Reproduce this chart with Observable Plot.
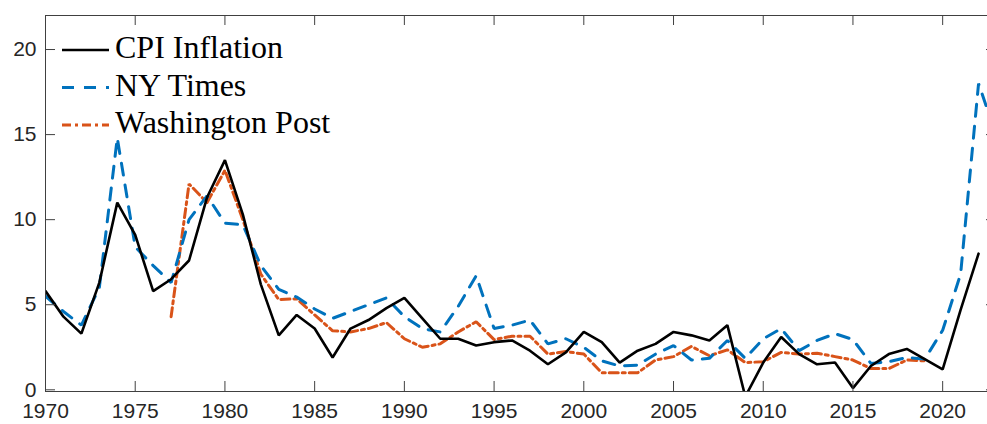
<!DOCTYPE html>
<html><head><meta charset="utf-8">
<script src="https://cdn.jsdelivr.net/npm/d3@7"></script>
<script src="https://cdn.jsdelivr.net/npm/@observablehq/plot@0.6"></script>
<style>
html,body{margin:0;padding:0;overflow:hidden;background:#fff;width:987px;height:424px}
#wrap{position:relative;width:987px;height:424px;overflow:hidden}
#wrap svg{max-width:none !important;display:block}
#legend{position:absolute;left:0;top:0}
</style></head><body><div id="wrap"></div>
<script>
const seriesNames = ["CPI Inflation", "NY Times", "Washington Post"];
const seriesColors = ["#000000", "#0072BD", "#D95319"];
const seriesDash = [null, "12,10", "9,4,3,4"];
const seriesWidth = [2.6, 3, 3];

const cpiStart = 1970;
const cpi = [5.8, 4.3, 3.3, 6.3, 11.0, 9.1, 5.8, 6.5, 7.6, 11.3,
  13.5, 10.3, 6.2, 3.2, 4.4, 3.6, 1.9, 3.6, 4.1, 4.8,
  5.4, 4.2, 3.0, 3.0, 2.6, 2.8, 2.9, 2.3, 1.5, 2.2,
  3.4, 2.8, 1.6, 2.3, 2.7, 3.4, 3.2, 2.9, 3.8, -0.4,
  1.6, 3.1, 2.1, 1.5, 1.6, 0.1, 1.4, 2.1, 2.4, 1.8,
  1.2, 4.7, 8.0];

const nytStart = 1970;
const nyt = [5.5, 4.6, 3.8, 6.0, 14.8, 8.4, 7.3, 6.3, 10.0, 11.4,
  9.8, 9.7, 7.3, 5.9, 5.45, 4.75, 4.2, 4.6, 5.0, 5.4,
  4.3, 3.6, 3.4, 4.9, 6.7, 3.6, 3.8, 4.1, 2.7, 3.0,
  2.5, 1.7, 1.4, 1.45, 2.1, 2.6, 1.75, 1.85, 2.9, 1.85,
  3.0, 3.6, 2.3, 2.9, 3.3, 2.95, 1.55, 1.65, 1.9, 1.8,
  3.5, 6.8, 18.0, 14.9];

const wapoStart = 1977;
const wapo = [4.3, 12.1, 11.0,
  12.9, 10.0, 6.8, 5.3, 5.35, 4.4, 3.47, 3.4, 3.6, 3.95,
  3.0, 2.5, 2.7, 3.4, 4.0, 2.95, 3.15, 3.15, 2.1, 2.25,
  2.1, 1.0, 1.0, 1.0, 1.75, 1.95, 2.55, 2.0, 2.35, 1.6,
  1.65, 2.2, 2.1, 2.15, 1.95, 1.75, 1.25, 1.25, 1.75, 1.7];

const xTicks = [1970, 1975, 1980, 1985, 1990, 1995, 2000, 2005, 2010, 2015, 2020];
const yTicks = [0, 5, 10, 15, 20];
const xDomain = [1970, 2023];
const yDomain = [-0.1, 22];

const toRows = (start, vals) => vals.map((v, i) => ({year: start + i, value: v}));
const seriesData = [toRows(cpiStart, cpi), toRows(nytStart, nyt), toRows(wapoStart, wapo)];

const W = 996, H = 424, mL = 45, mR = 0, mT = 15, mB = 33;
const innerW = W - mL - mR, innerH = H - mT - mB;
const axisColor = "#404040";
const tickLen = 10;

const lineMarks = seriesData.map((rows, i) => Plot.line(rows, {
  x: "year", y: "value", stroke: seriesColors[i], strokeWidth: seriesWidth[i],
  strokeDasharray: seriesDash[i] || undefined, strokeLinejoin: "miter", clip: true
}));

const chart = Plot.plot({
  width: W, height: H,
  marginLeft: mL, marginRight: mR, marginTop: mT, marginBottom: mB,
  style: {fontFamily: "'Liberation Sans', Arial, sans-serif", fontSize: "21px", color: "#262626", background: "#fff", overflow: "visible", maxWidth: "none"},
  x: {domain: xDomain},
  y: {domain: yDomain},
  marks: [
    ...lineMarks.slice().reverse(),
    Plot.ruleX(xTicks, {x: d => d, insetTop: innerH - tickLen, stroke: axisColor}),
    Plot.ruleX(xTicks, {x: d => d, insetBottom: innerH - tickLen, stroke: axisColor}),
    Plot.ruleY(yTicks, {y: d => d, insetRight: innerW - tickLen, stroke: axisColor}),
    Plot.ruleY(yTicks, {y: d => d, insetLeft: innerW - tickLen, stroke: axisColor}),
    Plot.frame({stroke: axisColor, strokeWidth: 1}),
    Plot.axisX({ticks: xTicks, tickFormat: d => String(d), tickSize: 0, tickPadding: 12, label: null, fill: "#262626"}),
    Plot.axisY({ticks: yTicks, tickFormat: d => String(d), tickSize: 0, tickPadding: 9, label: null, fill: "#262626"})
  ]
});

const wrap = document.getElementById("wrap");
wrap.appendChild(chart);

// Legend overlay
const lg = d3.create("svg").attr("id", "legend").attr("width", 400).attr("height", 150);
seriesNames.forEach((name, i) => {
  const yLine = 50 + i * 37.5;
  lg.append("line").attr("x1", 62).attr("x2", 109).attr("y1", yLine).attr("y2", yLine)
    .attr("stroke", seriesColors[i]).attr("stroke-width", seriesWidth[i])
    .attr("stroke-dasharray", seriesDash[i] || null);
  lg.append("text").attr("x", 115).attr("y", yLine + 8).text(name)
    .attr("font-family", "'Liberation Serif', 'Times New Roman', serif")
    .attr("font-size", 32).attr("fill", "#000");
});
wrap.appendChild(lg.node());
</script></body></html>
